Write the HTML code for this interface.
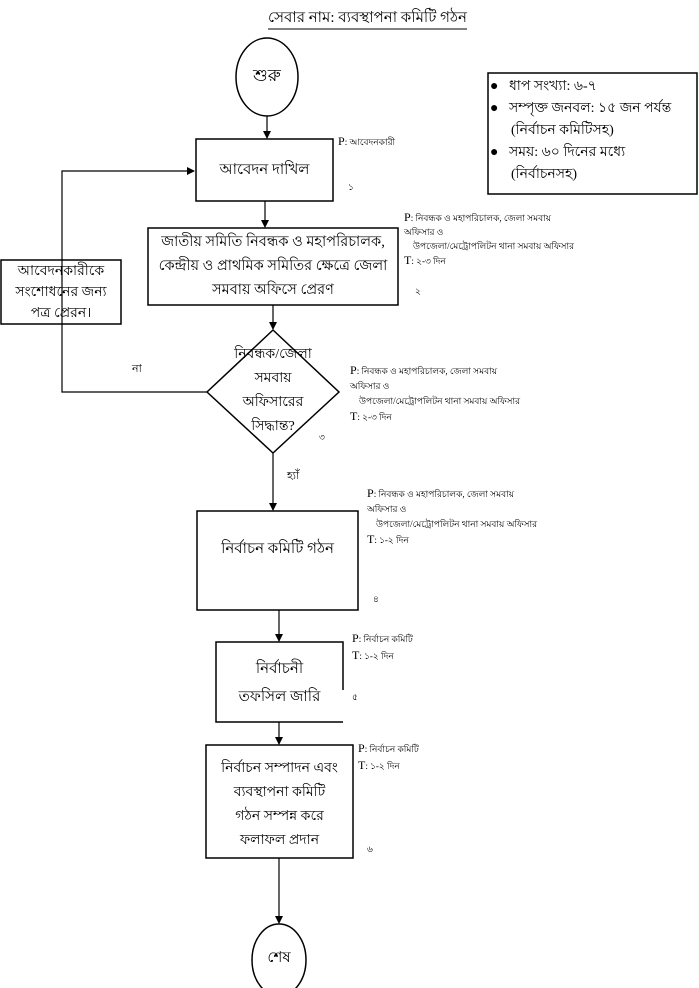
<!DOCTYPE html>
<html><head><meta charset="utf-8"><style>
html,body{margin:0;padding:0;background:#fff}
body{width:699px;height:988px;position:relative;overflow:hidden;font-family:"Liberation Serif","Noto Sans CJK SC",serif;color:#000}
.t{position:absolute;white-space:nowrap}
.c{position:absolute;text-align:center;font-size:15px;line-height:24px;white-space:nowrap}
.s{font-size:9px;line-height:15px}
.s b{font-weight:normal;font-size:12px}
</style></head><body>
<svg width="699" height="988" style="position:absolute;left:0;top:0">
<defs><marker id="a" markerWidth="8" markerHeight="8" refX="7" refY="4" orient="auto" markerUnits="userSpaceOnUse"><path d="M0,0 L8,4 L0,8 z" fill="#000"/></marker></defs>
<g fill="none" stroke="#000" stroke-width="1.5">
<ellipse cx="267" cy="77" rx="31" ry="39"/>
<rect x="196" y="139" width="137" height="62"/>
<rect x="148" y="228" width="250" height="77"/>
<rect x="1" y="260" width="120" height="64"/>
<path d="M273,330 L339,392 L273,453 L207,392 Z"/>
<rect x="197" y="511" width="161" height="99"/>
<path d="M343,690 V642 H216 V722 H343"/>
<rect x="206" y="745" width="147" height="113"/>
<ellipse cx="279" cy="960" rx="27" ry="36"/>
<rect x="488" y="73" width="209" height="121"/>
</g>
<g stroke="#000" stroke-width="1.2" fill="none">
<line x1="267" y1="116" x2="267" y2="138" marker-end="url(#a)"/>
<line x1="265" y1="201" x2="265" y2="227" marker-end="url(#a)"/>
<line x1="273" y1="305" x2="273" y2="329" marker-end="url(#a)"/>
<path d="M207,392 H62 V171 H194" marker-end="url(#a)"/>
<line x1="273" y1="453" x2="273" y2="510" marker-end="url(#a)"/>
<line x1="279" y1="610" x2="279" y2="641" marker-end="url(#a)"/>
<line x1="279" y1="722" x2="279" y2="744" marker-end="url(#a)"/>
<line x1="279" y1="858" x2="279" y2="923" marker-end="url(#a)"/>
<line x1="268" y1="29" x2="467" y2="29" stroke-width="1"/>
</g>
</svg>
<div class="t" style="left:268px;top:6px;font-size:15px">সেবার নাম: ব্যবস্থাপনা কমিটি গঠন</div>
<div class="c" style="left:236px;top:64px;width:62px;font-size:17px">শুরু</div>
<div class="c" style="left:196px;top:158px;width:137px">আবেদন দাখিল</div>
<div class="c" style="left:148px;top:230px;width:250px;font-size:14.5px">জাতীয় সমিতি নিবন্ধক ও মহাপরিচালক,<br>কেন্দ্রীয় ও প্রাথমিক সমিতির ক্ষেত্রে জেলা<br>সমবায় অফিসে প্রেরণ</div>
<div class="c" style="left:1px;top:261px;width:120px;line-height:21px;font-size:14px">আবেদনকারীকে<br>সংশোধনের জন্য<br>পত্র প্রেরন।</div>
<div class="c" style="left:218px;top:343px;width:110px;line-height:24px;font-size:14px">নিবন্ধক/জেলা<br>সমবায়<br>অফিসারের<br>সিদ্ধান্ত?</div>
<div class="c" style="left:197px;top:537px;width:161px">নির্বাচন কমিটি গঠন</div>
<div class="c" style="left:216px;top:655px;width:127px;line-height:28px">নির্বাচনী<br>তফসিল জারি</div>
<div class="c" style="left:206px;top:757px;width:147px;line-height:24px;font-size:14px">নির্বাচন সম্পাদন এবং<br>ব্যবস্থাপনা কমিটি<br>গঠন  সম্পন্ন করে<br>ফলাফল প্রদান</div>
<div class="c" style="left:252px;top:946px;width:54px">শেষ</div>
<div class="t" style="left:490px;top:76px;font-size:14px;line-height:22px">●&nbsp;&nbsp;&nbsp;ধাপ সংখ্যা: ৬-৭<br>●&nbsp;&nbsp;&nbsp;সম্পৃক্ত জনবল: ১৫ জন পর্যন্ত<br>&nbsp;&nbsp;&nbsp;&nbsp;&nbsp;&nbsp;(নির্বাচন কমিটিসহ)<br>●&nbsp;&nbsp;&nbsp;সময়: ৬০ দিনের মধ্যে<br>&nbsp;&nbsp;&nbsp;&nbsp;&nbsp;&nbsp;(নির্বাচনসহ)</div>
<div class="t s" style="left:338px;top:134px"><b>P</b>: আবেদনকারী</div>
<div class="t s" style="left:348px;top:180px">১</div>
<div class="t s" style="left:404px;top:210px;line-height:14px"><b>P</b>: নিবন্ধক ও মহাপরিচালক, জেলা সমবায়<br>অফিসার ও<br>&nbsp;&nbsp;&nbsp;&nbsp;উপজেলা/মেট্রোপলিটন থানা সমবায় অফিসার<br><b>T</b>: ২-৩ দিন</div>
<div class="t s" style="left:415px;top:284px">২</div>
<div class="t s" style="left:350px;top:363px;line-height:15px"><b>P</b>: নিবন্ধক ও মহাপরিচালক, জেলা সমবায়<br>অফিসার ও<br>&nbsp;&nbsp;&nbsp;&nbsp;উপজেলা/মেট্রোপলিটন থানা সমবায় অফিসার<br><b>T</b>: ২-৩ দিন</div>
<div class="t s" style="left:319px;top:430px">৩</div>
<div class="t" style="left:132px;top:360px;font-size:11px">না</div>
<div class="t" style="left:287px;top:467px;font-size:11px">হ্যাঁ</div>
<div class="t s" style="left:367px;top:486px;line-height:15px"><b>P</b>: নিবন্ধক ও মহাপরিচালক, জেলা সমবায়<br>অফিসার ও<br>&nbsp;&nbsp;&nbsp;&nbsp;উপজেলা/মেট্রোপলিটন থানা সমবায় অফিসার<br><b>T</b>: ১-২ দিন</div>
<div class="t s" style="left:373px;top:592px">৪</div>
<div class="t s" style="left:352px;top:630px;line-height:16px"><b>P</b>: নির্বাচন কমিটি<br><b>T</b>: ১-২ দিন</div>
<div class="t s" style="left:352px;top:690px">৫</div>
<div class="t s" style="left:358px;top:740px;line-height:16px"><b>P</b>: নির্বাচন কমিটি<br><b>T</b>: ১-২ দিন</div>
<div class="t s" style="left:367px;top:842px">৬</div>
</body></html>
